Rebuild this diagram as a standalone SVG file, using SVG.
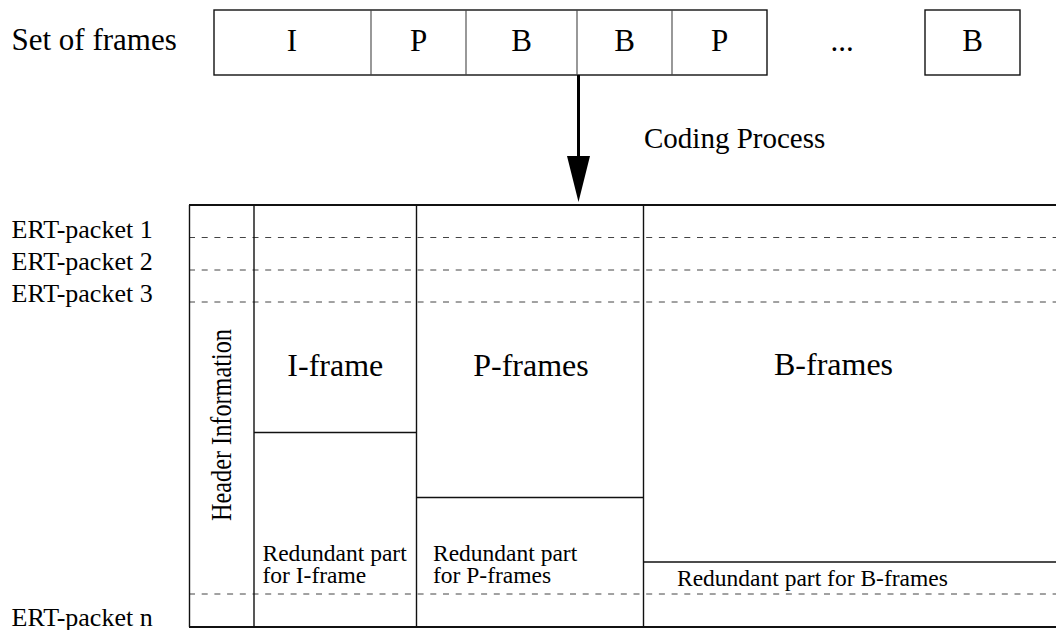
<svg xmlns="http://www.w3.org/2000/svg" width="1056" height="630" viewBox="0 0 1056 630">
<defs>
<style>
text{font-family:"Liberation Serif","Times New Roman",serif;fill:#000}
.big{font-size:31px}
.hd{font-size:32px}
.lbl{font-size:26px}
.sm{font-size:23.5px}
.ln{stroke:#111;stroke-width:1.4;fill:none}
.thin{stroke:#444;stroke-width:1.1;fill:none}
.dash{stroke:#444;stroke-width:1;stroke-dasharray:6 6.7;fill:none}
</style>
</defs>
<rect width="1056" height="630" fill="#fff"/>
<text class="big" x="11.5" y="50">Set of frames</text>
<g id="frames">
<rect class="ln" x="214" y="10" width="553" height="65"/>
<line class="thin" x1="371" y1="10" x2="371" y2="75"/>
<line class="thin" x1="466" y1="10" x2="466" y2="75"/>
<line class="thin" x1="577" y1="10" x2="577" y2="75"/>
<line class="thin" x1="672" y1="10" x2="672" y2="75"/>
<rect class="ln" x="925" y="10" width="95" height="65"/>
<text class="big" x="292" y="51" text-anchor="middle">I</text>
<text class="big" x="418.5" y="51" text-anchor="middle">P</text>
<text class="big" x="521.5" y="51" text-anchor="middle">B</text>
<text class="big" x="624.5" y="51" text-anchor="middle">B</text>
<text class="big" x="719.5" y="51" text-anchor="middle">P</text>
<text class="big" x="842" y="51" text-anchor="middle">...</text>
<text class="big" x="972.5" y="51" text-anchor="middle">B</text>
</g>
<g id="connectors">
<line x1="578.5" y1="75" x2="578.5" y2="160" stroke="#000" stroke-width="3"/>
<polygon points="567,156 590,156 578.5,202" fill="#000"/>
</g>
<text x="644" y="148" style="font-size:29px">Coding Process</text>
<g id="labels">
<text class="lbl" x="11.5" y="238">ERT-packet 1</text>
<text class="lbl" x="11.5" y="270">ERT-packet 2</text>
<text class="lbl" x="11.5" y="302">ERT-packet 3</text>
<text class="lbl" x="11.5" y="626">ERT-packet n</text>
</g>
<g id="table">
<line class="dash" x1="189" y1="237.5" x2="1056" y2="237.5"/>
<line class="dash" x1="189" y1="270" x2="1056" y2="270"/>
<line class="dash" x1="189" y1="302" x2="1056" y2="302"/>
<line class="dash" x1="189" y1="594" x2="1056" y2="594"/>
<line x1="189" y1="205" x2="1056" y2="205" stroke="#111" stroke-width="2"/>
<line x1="189" y1="627" x2="1056" y2="627" stroke="#111" stroke-width="2"/>
<line class="ln" x1="189.5" y1="205" x2="189.5" y2="627"/>
<line class="ln" x1="254" y1="205" x2="254" y2="627"/>
<line class="ln" x1="416.5" y1="205" x2="416.5" y2="627"/>
<line class="ln" x1="643.5" y1="205" x2="643.5" y2="627"/>
<line class="ln" x1="254" y1="432.5" x2="416.5" y2="432.5"/>
<line class="ln" x1="416.5" y1="497.5" x2="643.5" y2="497.5"/>
<line class="ln" x1="643.5" y1="562" x2="1056" y2="562"/>
</g>
<g id="header">
<text transform="translate(231,521) rotate(-90)" style="font-size:30px" textLength="192" lengthAdjust="spacingAndGlyphs">Header Information</text>
</g>
<g id="iframe">
<text class="hd" x="335.3" y="376" text-anchor="middle">I-frame</text>
<text class="sm" x="262.5" y="561">Redundant part</text>
<text class="sm" x="262.5" y="583">for I-frame</text>
</g>
<g id="pframes">
<text class="hd" x="531" y="376" text-anchor="middle">P-frames</text>
<text class="sm" x="433" y="561">Redundant part</text>
<text class="sm" x="433" y="583">for P-frames</text>
</g>
<g id="bframes">
<text class="hd" x="774" y="375">B-frames</text>
<text class="sm" x="677" y="586">Redundant part for B-frames</text>
</g>
</svg>
